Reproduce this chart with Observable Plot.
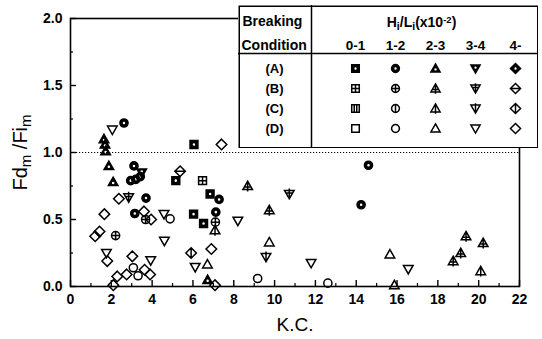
<!DOCTYPE html>
<html><head><meta charset="utf-8">
<script src="https://cdn.jsdelivr.net/npm/d3@7"></script>
<script src="https://cdn.jsdelivr.net/npm/@observablehq/plot@0.6"></script>
<style>
body{margin:0;background:#fff;}
#wrap{position:relative;width:542px;height:339px;overflow:hidden;}
#legend{position:absolute;left:238px;top:5px;}
</style></head><body><div id="wrap"><div id="legend"></div></div>
<script>
// ---- data ----
const kc = [2.62,2.05,1.64,1.69,1.72,1.88,2.09,3.11,3.49,2.95,3.20,3.42,2.37,2.85,3.70,1.66,3.15,3.60,3.68,3.95,4.58,4.88,1.21,1.42,2.21,1.76,1.80,3.03,3.93,2.10,2.29,2.75,3.08,3.31,3.63,3.90,4.60,6.05,7.40,5.37,5.16,6.47,6.84,7.28,6.03,6.52,7.12,7.10,7.08,8.20,5.91,6.90,6.11,6.71,6.72,7.08,9.17,8.68,10.72,9.74,9.74,9.58,11.79,12.61,14.60,14.24,15.65,16.55,15.87,18.75,19.12,19.38,20.22,20.10];
const ratio = [1.22,1.17,1.10,1.06,1.01,0.90,0.78,0.90,0.85,0.79,0.80,0.82,0.655,0.665,0.66,0.54,0.545,0.56,0.50,0.50,0.54,0.505,0.375,0.41,0.38,0.25,0.19,0.225,0.195,0.01,0.075,0.09,0.14,0.08,0.125,0.09,0.34,1.06,1.06,0.86,0.79,0.79,0.69,0.65,0.54,0.47,0.555,0.48,0.42,0.49,0.25,0.28,0.145,0.165,0.05,0.01,0.06,0.75,0.69,0.57,0.33,0.22,0.175,0.025,0.905,0.61,0.24,0.13,0.01,0.19,0.25,0.375,0.325,0.115];
const cond = ["A","D","A","A","A","A","A","A","A","A","A","A","D","B","A","D","A","D","B","D","D","D","D","D","B","D","D","D","D","D","D","D","D","D","D","D","D","A","D","B","A","B","A","A","A","A","A","B","C","D","C","D","D","D","A","D","D","B","B","B","D","C","D","D","A","A","D","D","D","B","B","B","B","C"];
const hl = ["1-2","3-4","2-3","2-3","2-3","2-3","2-3","1-2","3-4","1-2","1-2","1-2","4-","3-4","1-2","4-","1-2","4-","1-2","4-","3-4","1-2","4-","4-","1-2","3-4","4-","4-","3-4","4-","4-","4-","1-2","1-2","4-","4-","3-4","0-1","4-","4-","0-1","0-1","0-1","1-2","0-1","0-1","1-2","1-2","2-3","3-4","4-","4-","3-4","2-3","2-3","4-","1-2","2-3","3-4","2-3","2-3","3-4","3-4","1-2","1-2","1-2","2-3","3-4","2-3","2-3","2-3","2-3","2-3","2-3"];
const hlBins = ["0-1","1-2","2-3","3-4","4-"];
const conditions = ["A","B","C","D"];
const xTicks = [0,2,4,6,8,10,12,14,16,18,20,22];
const xMinor = [1,3,5,7,9,11,13,15,17,19,21];
const yTicks = [0,0.5,1,1.5,2];
const yMinor = [0.25,0.75,1.25,1.75];
const refLine = [1.0];

// ---- symbols ----
const shapeOf = {"0-1":"square","1-2":"circle","2-3":"up","3-4":"down","4-":"diamond"};
function outline(ctx, shape, R) {
  if (shape === "square") { const s = 0.82*R; ctx.moveTo(-s,-s); ctx.lineTo(s,-s); ctx.lineTo(s,s); ctx.lineTo(-s,s); ctx.closePath(); }
  else if (shape === "circle") { const c = 0.85*R; ctx.moveTo(c,0); ctx.arc(0,0,c,0,2*Math.PI); ctx.closePath(); }
  else if (shape === "up") { ctx.moveTo(0,-R); ctx.lineTo(R,0.75*R); ctx.lineTo(-R,0.75*R); ctx.closePath(); }
  else if (shape === "down") { ctx.moveTo(-R,-0.75*R); ctx.lineTo(R,-0.75*R); ctx.lineTo(0,R); ctx.closePath(); }
  else { const d = 1.1*R; ctx.moveTo(0,-d); ctx.lineTo(d,0); ctx.lineTo(0,d); ctx.lineTo(-d,0); ctx.closePath(); }
}
function seg(ctx,x1,y1,x2,y2){ ctx.moveTo(x1,y1); ctx.lineTo(x2,y2); }
function makeSymbol(shape, c) {
  return {draw(ctx, size) {
    const R = Math.sqrt(size/Math.PI);
    outline(ctx, shape, R);
    if (c === "A") {
      const cy = shape === "up" ? 0.2*R : shape === "down" ? -0.2*R : 0;
      const h = 0.42*R;
      ctx.moveTo(h, cy); ctx.arc(0, cy, h, 0, 2*Math.PI, true); ctx.closePath();
    } else if (c === "B") {
      if (shape === "square") { const s=0.82*R; seg(ctx,0,-s,0,s); seg(ctx,-s,0,s,0); }
      else if (shape === "circle") { const s=0.85*R; seg(ctx,0,-s,0,s); seg(ctx,-s,0,s,0); }
      else if (shape === "up") { seg(ctx,0,-R,0,1.15*R); seg(ctx,-0.8*R,0.2*R,0.8*R,0.2*R); }
      else if (shape === "down") { seg(ctx,0,-1.15*R,0,R); seg(ctx,-0.8*R,-0.2*R,0.8*R,-0.2*R); }
      else { const d=1.1*R; seg(ctx,-d,0,d,0); }
    } else if (c === "C") {
      if (shape === "square") { const s=0.82*R; seg(ctx,-s/3,-s,-s/3,s); seg(ctx,s/3,-s,s/3,s); }
      else if (shape === "circle") { seg(ctx,0,-1.05*R,0,1.05*R); }
      else if (shape === "up") { seg(ctx,0,-R,0,1.15*R); }
      else if (shape === "down") { seg(ctx,0,-1.15*R,0,R); }
      else { const d=1.1*R; seg(ctx,0,-d,0,d); }
    }
  }};
}
function richText(el, parts) {
  const t = d3.select(el); t.text(null);
  for (const [s,k] of parts) {
    const ts = t.append("tspan").text(s);
    if (k === "sub") ts.attr("baseline-shift","-28%").attr("font-size","75%");
    if (k === "sup") ts.attr("baseline-shift","45%").attr("font-size","68%");
  }
}

// ---- main chart ----
const W = 542, H = 339, ml = 70, mr = 23, mt = 18, mb = 53;
const innerW = W - ml - mr, innerH = H - mt - mb;
const rows = kc.map((k,i) => ({kc:k, r:ratio[i], cond:cond[i], hl:hl[i]}));
const dotMarks = [];
for (const c of conditions) for (const b of hlBins) {
  const sub = rows.filter(d => d.cond === c && d.hl === b);
  if (!sub.length) continue;
  dotMarks.push(Plot.dot(sub, {x:"kc", y:"r", r:4.8, symbol:makeSymbol(shapeOf[b], c),
    fill: c === "A" ? "black" : "none", stroke:"black", strokeWidth:1.5}));
}
const font = "'Liberation Sans', Arial, sans-serif";
const chart = Plot.plot({
  width:W, height:H, marginLeft:ml, marginRight:mr, marginTop:mt, marginBottom:mb,
  style:{fontFamily:font, background:"white", color:"black"},
  x:{domain:[0,22]}, y:{domain:[0,2]},
  marks:[
    Plot.ruleY(refLine, {strokeDasharray:"1.2,1.8", strokeWidth:1}),
    Plot.tickX(xTicks, {x:d=>d, insetTop:innerH-6, strokeWidth:1.4}),
    Plot.tickX(xMinor, {x:d=>d, insetTop:innerH-3, strokeWidth:1.2}),
    Plot.tickY(yTicks, {y:d=>d, insetRight:innerW-6, strokeWidth:1.4}),
    Plot.tickY(yMinor, {y:d=>d, insetRight:innerW-3, strokeWidth:1.2}),
    Plot.axisX({ticks:xTicks, tickSize:0, tickPadding:8, fontSize:14, fontWeight:"bold", label:"K.C.", labelAnchor:"center", labelOffset:44, labelArrow:"none"}),
    Plot.axisY({ticks:yTicks, tickSize:0, tickPadding:8, fontSize:14, fontWeight:"bold", tickFormat:d3.format(".1f"), label:"Fdm/Fim", labelAnchor:"center", labelOffset:58, labelArrow:"none"}),
    ...dotMarks,
    Plot.frame({strokeWidth:1.6})
  ]
});
document.getElementById("wrap").prepend(chart);
d3.select(chart).selectAll("text").each(function() {
  if (this.textContent === "K.C.") { d3.select(this).attr("font-size", 19).attr("font-weight", "normal"); }
  if (this.textContent === "Fdm/Fim") {
    d3.select(this).attr("font-size", 20).attr("font-weight", "normal");
    richText(this, [["Fd",null],["m","sub"],[" /Fi",null],["m","sub"]]);
  }
});

// ---- legend table (its own small Plot) ----
const legW = 300, legH = 143;
const legendMarks = [
  Plot.frame({inset:0.75, strokeWidth:1.5}),
  Plot.ruleX([hlBins[0]], {dx:-44, strokeWidth:1.5}),
  Plot.ruleY([conditions[0]], {dy:-15, strokeWidth:1.5}),
  Plot.text(hlBins, {x:d=>d, frameAnchor:"top", dy:40, lineAnchor:"middle", fontSize:13.5, fontWeight:"bold"}),
  Plot.text(conditions, {y:d=>d, frameAnchor:"left", dx:36, textAnchor:"middle", text:d=>`(${d})`, fontSize:13, fontWeight:"bold"}),
  Plot.text(["Breaking"], {frameAnchor:"top-left", dx:4, dy:16, lineAnchor:"middle", fontSize:14, fontWeight:"bold"}),
  Plot.text(["Condition"], {frameAnchor:"top-left", dx:3, dy:40, lineAnchor:"middle", fontSize:14, fontWeight:"bold"}),
  Plot.text(["HL"], {x:()=>hlBins[2], frameAnchor:"top", dx:-14, dy:17, lineAnchor:"middle", fontSize:14, fontWeight:"bold"})
];
for (const c of conditions) for (const b of hlBins) {
  legendMarks.push(Plot.dot([{c, b}], {x:"b", y:"c", r:4.6, symbol:makeSymbol(shapeOf[b], c),
    fill: c === "A" ? "black" : "none", stroke:"black", strokeWidth:1.5}));
}
const legend = Plot.plot({
  width:legW, height:legH, margin:0,
  style:{fontFamily:font, background:"white", color:"black"},
  x:{type:"point", domain:hlBins, range:[117,277], padding:0, axis:null},
  y:{type:"point", domain:conditions, range:[62,123], padding:0, axis:null},
  marks:legendMarks
});
document.getElementById("legend").append(legend);
d3.select(legend).selectAll("text").each(function() {
  if (this.textContent === "HL") richText(this, [["H",null],["i","sub"],["/L",null],["i","sub"],["(x10",null],["-2","sup"],[")",null]]);
});
</script></body></html>
